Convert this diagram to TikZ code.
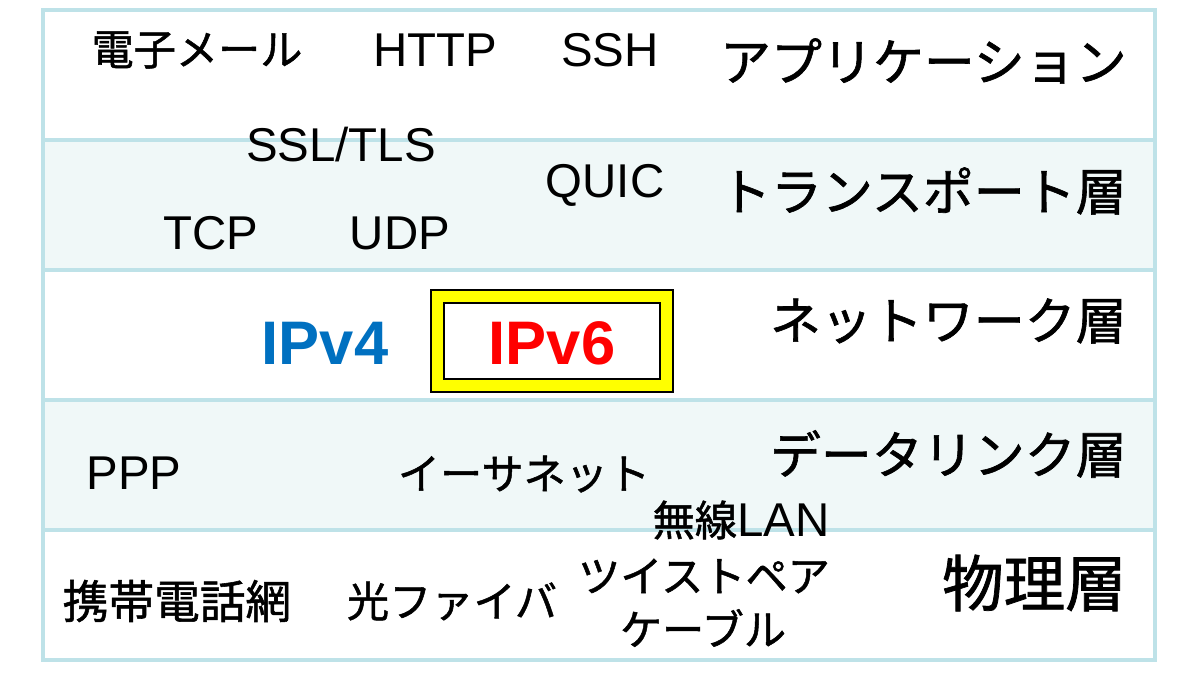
\documentclass[tikz,border=0pt]{standalone}
\usepackage{fontspec}
\setmainfont{Liberation Sans}
\newfontfamily\cjk[FakeBold=1.2]{Noto Sans CJK JP}
\definecolor{gridc}{RGB}{190,226,232}
\definecolor{rowfill}{RGB}{240,248,248}
\definecolor{ipblue}{RGB}{0,112,192}
\definecolor{ipyellow}{RGB}{255,255,0}
\begin{document}
\begin{tikzpicture}[x=0.02cm,y=-0.02cm,
  lab/.style={inner sep=0pt, font=\fontsize{24}{28}\selectfont\cjk},
  lat/.style={inner sep=0pt, font=\fontsize{27}{31}\selectfont},
  layer/.style={inner sep=0pt, anchor=east, font=\fontsize{29}{33}\selectfont\cjk},
  rowline/.style={draw=gridc, line width=2.6pt}]
\useasboundingbox (0,0) rectangle (1200,686);
\fill[white] (0,0) rectangle (1200,686);
% rows
\fill[rowfill] (43,140) rectangle (1155,270);
\fill[rowfill] (43,400) rectangle (1155,530);
\draw[rowline] (43,140) -- (1155,140);
\draw[rowline] (43,270) -- (1155,270);
\draw[rowline] (43,400) -- (1155,400);
\draw[rowline] (43,530) -- (1155,530);
\draw[draw=gridc, line width=1.8pt] (43,10) rectangle (1155,660);
% application
\node[lab] (mail) at (197,50) {電子メール};
\node[lat] (http) at (435,50) {HTTP};
\node[lat] (ssh) at (610,50) {SSH};
\node[layer] (app) at (1127,61) {アプリケーション};
% transport
\node[lat] (ssl) at (341,145) {SSL/TLS};
\node[lat] (quic) at (605,185) {QUIC};
\node[layer] (tr) at (1127,191) {トランスポート層};
\node[lat] (tcp) at (211,233) {TCP};
\node[lat] (udp) at (400,233) {UDP};
% network
\node[layer] (nw) at (1127,321) {ネットワーク層};
\node[inner sep=0pt, font=\fontsize{35}{40}\selectfont\bfseries, text=ipblue] (ipv4) at (325,343) {IPv4};
\draw[fill=ipyellow, draw=black, line width=0.8pt] (431,290) rectangle (673,392);
\draw[fill=white, draw=black, line width=0.8pt] (444,303) rectangle (660,379);
\node[inner sep=0pt, font=\fontsize{35}{40}\selectfont\bfseries, text=red] (ipv6) at (552,343) {IPv6};
% data link
\node[layer] (dl) at (1127,454) {データリンク層};
\node[lat] (ppp) at (134,473) {PPP};
\node[lab] (eth) at (524,474) {イーサネット};
\node[lab] (wlan) at (741,520) {無線{\rmfamily\fontsize{27}{31}\selectfont LAN}};
% physical
\node[lab, font=\fontsize{26}{30}\selectfont\cjk] (mob) at (177,601) {携帯電話網};
\node[lab] (fib) at (452,601) {光ファイバ};
\node[lab] (tp1) at (704,576) {ツイストペア};
\node[lab] (tp2) at (703,628) {ケーブル};
\node[layer, font=\fontsize{35}{40}\selectfont\cjk] (ph) at (1127,583) {物理層};
\end{tikzpicture}
\end{document}
